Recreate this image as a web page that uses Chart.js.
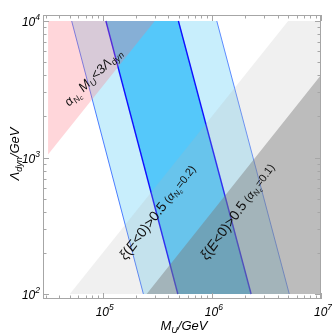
<!DOCTYPE html>
<html><head><meta charset="utf-8">
<script src="https://cdn.jsdelivr.net/npm/chart.js@4.4.1/dist/chart.umd.min.js"></script>
<style>html,body{margin:0;padding:0;background:#fff}#wrap{width:332px;height:335px}</style>
</head><body><div id="wrap"><canvas id="c" width="332" height="335"></canvas></div>
<script>
// ---- data (MU in GeV, Lambda_dyn in GeV) ----
const xRange = [2.84e4, 1e7];
const yRange = [91.9, 1.107e4];
const xTickExps = [5, 6, 7];
const yTickExps = [2, 3, 4];
// pink region: alpha Nc MU < 3 Lambda  (Lambda > MU/30)
const pinkMU = [3.16e4, 3.16e4, 3.0e5];
const pinkL  = [1e4, 1054, 1e4];
// light grey region: Lambda < MU/500
const lgreyMU = [5.0e4, 5.0e6, 1e7, 1e7];
const lgreyL  = [100, 1e4, 1e4, 100];
// dark grey region: Lambda < MU/2500
const dgreyMU = [2.53e5, 1e7, 1e7];
const dgreyL  = [100, 4.02e3, 100];
// band boundary lines: MU at Lambda = 1e4 (top) and at Lambda = 100 (bottom)
const lineTopMU    = [5.2e4, 1.07e5, 4.94e5, 1.11e6];   // A, B, C, D
const lineBottomMU = [2.36e5, 4.88e5, 2.29e6, 5.12e6];
const bandL = [1e4, 100];
// label anchors (data coords)
const labelMU = [8.68e4, 3.21e5, 1.74e6];
const labelL  = [3.89e3, 399, 405];

function pts(xs, ys){ return xs.map((x,i)=>({x:x, y:ys[i]})); }
function poly(xs, ys, color, order){
  return {data: pts(xs,ys), backgroundColor: color, borderWidth: 0, borderColor:'rgba(0,0,0,0)',
          fill: 'shape', pointRadius: 0, order: order, tension: 0};
}
function line(i, color, w, order){
  return {data: pts([lineTopMU[i], lineBottomMU[i]], bandL), borderColor: color, borderWidth: w,
          fill: false, pointRadius: 0, order: order};
}
const lightBand = poly([lineTopMU[0], lineTopMU[3], lineBottomMU[3], lineBottomMU[0]],
                       [1e4, 1e4, 100, 100], '#c8eefc', 20);
const brightBand = poly([lineTopMU[1], lineTopMU[2], lineBottomMU[2], lineBottomMU[1]],
                       [1e4, 1e4, 100, 100], '#55c8fa', 19);

const datasets = [
  lightBand, brightBand,
  line(0, '#4a7dff', 1, 15), line(1, '#1010ff', 1.4, 14),
  line(2, '#1010ff', 1.4, 13), line(3, '#5b8aff', 1, 12),
  poly(lgreyMU, lgreyL, 'rgba(180,180,180,0.2)', 5),
  poly(dgreyMU, dgreyL, 'rgba(120,120,120,0.44)', 4),
  poly(pinkMU, pinkL, 'rgba(255,113,128,0.29)', 3)
];

const FF = '"Liberation Sans", Arial, sans-serif';
function rich(ctx, segs, x, y, angle, align){
  ctx.save(); ctx.translate(x, y); ctx.rotate(angle);
  ctx.textBaseline = 'alphabetic';
  let w = 0;
  segs.forEach(s=>{ ctx.font = (s.it?'italic ':'') + s.sz + 'px ' + FF; s.w = ctx.measureText(s.t).width; w += s.w; });
  let cx = align==='center' ? -w/2 : (align==='right' ? -w : 0);
  segs.forEach(s=>{ ctx.font = (s.it?'italic ':'') + s.sz + 'px ' + FF; ctx.fillText(s.t, cx, s.dy||0); cx += s.w; });
  ctx.restore();
}

const decor = {
  id: 'decor',
  afterDraw(chart){
    const ctx = chart.ctx, xs = chart.scales.x, ys = chart.scales.y, a = chart.chartArea;
    ctx.save();
    // frame
    ctx.strokeStyle = '#a6a6a6'; ctx.lineWidth = 1;
    ctx.strokeRect(a.left+0.5, a.top+0.5, a.right-a.left-1, a.bottom-a.top-1);
    // ticks
    ctx.beginPath();
    for (let d = 4; d <= 7; d++) for (let m = 1; m <= 9; m++){
      const v = m*Math.pow(10,d); if (v < xRange[0] || v > xRange[1]*1.0001) continue;
      const p = Math.round(xs.getPixelForValue(v)) + 0.5, L = m===1 ? 6 : 3.5;
      ctx.moveTo(p, a.bottom); ctx.lineTo(p, a.bottom - L);
      ctx.moveTo(p, a.top); ctx.lineTo(p, a.top + L);
    }
    for (let d = 1; d <= 4; d++) for (let m = 1; m <= 9; m++){
      const v = m*Math.pow(10,d); if (v < yRange[0] || v > yRange[1]) continue;
      const p = Math.round(ys.getPixelForValue(v)) + 0.5, L = m===1 ? 6 : 3.5;
      ctx.moveTo(a.left, p); ctx.lineTo(a.left + L, p);
      ctx.moveTo(a.right, p); ctx.lineTo(a.right - L, p);
    }
    ctx.stroke();
    ctx.fillStyle = '#000';
    // tick labels
    xTickExps.forEach(e=>{
      const p = xs.getPixelForValue(Math.pow(10,e));
      rich(ctx, [{t:'10', sz:12, it:true}, {t:String(e), sz:8.5, it:true, dy:-6}], p+2, 316, 0, 'center');
    });
    yTickExps.forEach(e=>{
      const p = ys.getPixelForValue(Math.pow(10,e));
      rich(ctx, [{t:'10', sz:12, it:true}, {t:String(e), sz:8.5, it:true, dy:-6}], 40, p+5, 0, 'right');
    });
    // axis titles
    rich(ctx, [{t:'M', sz:13, it:true}, {t:'U', sz:9, it:true, dy:3}, {t:'/GeV', sz:13, it:true}], 184, 330, 0, 'center');
    rich(ctx, [{t:'Λ', sz:13, it:true}, {t:'dyn', sz:9, it:true, dy:3}, {t:'/GeV', sz:13, it:true}], 19, 154, -Math.PI/2, 'center');
    // region labels
    ctx.fillStyle = '#111';
    const l1 = [{t:'α', sz:12.5, it:true}, {t:'N', sz:8.5, it:true, dy:3}, {t:'c', sz:6.5, it:true, dy:4.5},
                {t:' M', sz:13, it:true}, {t:'U', sz:9, it:true, dy:3}, {t:'<3Λ', sz:13, it:true},
                {t:'dyn', sz:9, it:true, dy:3}];
    rich(ctx, l1, xs.getPixelForValue(labelMU[0]), ys.getPixelForValue(labelL[0]) + 3, -45*Math.PI/180, 'center');
    const mk = (v)=>[{t:'ξ', sz:14, it:true}, {t:'(', sz:14}, {t:'E', sz:14, it:true}, {t:'<0)>0.5', sz:14},
                {t:' (', sz:11}, {t:'α', sz:11, it:true}, {t:'N', sz:8, it:true, dy:2.5}, {t:'c', sz:6, it:true, dy:4},
                {t:'='+v+')', sz:11}];
    rich(ctx, mk('0.2'), xs.getPixelForValue(labelMU[1]) + 3, ys.getPixelForValue(labelL[1]) + 3, -52.5*Math.PI/180, 'center');
    rich(ctx, mk('0.1'), xs.getPixelForValue(labelMU[2]) + 3, ys.getPixelForValue(labelL[2]) + 3, -54*Math.PI/180, 'center');
    ctx.restore();
  }
};

new Chart(document.getElementById('c'), {
  type: 'line',
  data: { datasets: datasets },
  options: {
    responsive: false, animation: false, events: [],
    layout: { padding: { left: 43, right: 11, top: 15, bottom: 36 } },
    plugins: { legend: {display:false}, tooltip: {enabled:false} },
    scales: {
      x: { type: 'logarithmic', min: xRange[0], max: xRange[1], display: false },
      y: { type: 'logarithmic', min: yRange[0], max: yRange[1], display: false }
    }
  },
  plugins: [decor]
});
</script></body></html>
